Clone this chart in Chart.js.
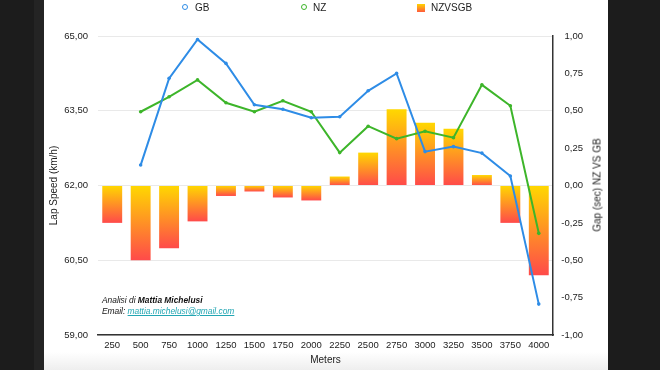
<!DOCTYPE html>
<html>
<head>
<meta charset="utf-8">
<script src="https://cdn.jsdelivr.net/npm/chart.js@4.4.1/dist/chart.umd.min.js"></script>
<style>
html,body{margin:0;padding:0;}
body{width:660px;height:370px;background:#1c1c1c;position:relative;overflow:hidden;font-family:"Liberation Sans",Arial,sans-serif;}
#strip{position:absolute;left:34px;top:0;width:10px;height:370px;background:#242424;}
#panel{position:absolute;left:44px;top:0;width:564px;height:370px;background:linear-gradient(to bottom,#fff 0,#fff 352px,#eeeeee 370px);}
#wrap{position:absolute;left:44px;top:0;width:564px;height:370px;}
.leg{position:absolute;top:2px;font-size:10px;color:#222;line-height:12px;}
.mk{position:absolute;top:4px;width:4px;height:4px;border-radius:50%;background:#fff;}
#note{position:absolute;left:102px;top:295px;font-size:8.4px;font-style:italic;color:#111;line-height:11px;}
#note a{color:#22a6b3;text-decoration:underline;}
#rtitle{position:absolute;left:597px;top:185px;transform:translate(-50%,-50%) rotate(-90deg);font-size:10px;color:#222;white-space:nowrap;}
</style>
</head>
<body>
<div id="strip"></div>
<div id="panel"></div>
<div id="wrap"><canvas id="c" width="564" height="370"></canvas></div>

<div class="mk" style="left:182px;border:1.5px solid #2e8ce6;"></div>
<div class="leg" style="left:195px;">GB</div>
<div class="mk" style="left:301px;border:1.5px solid #3db52a;"></div>
<div class="leg" style="left:313px;">NZ</div>
<div style="position:absolute;left:417px;top:4px;width:8px;height:8px;background:linear-gradient(#ffd400,#ff5a3c);"></div>
<div class="leg" style="left:431px;">NZVSGB</div>

<div id="note">Analisi di <b>Mattia Michelusi</b><br>Email: <a>mattia.michelusi@gmail.com</a></div>
<div id="rtitle">Gap (sec) NZ VS GB</div>

<script>
const meters=['250','500','750','1000','1250','1500','1750','2000','2250','2500','2750','3000','3250','3500','3750','4000'];
const gb=[null,62.41,64.15,64.93,64.45,63.62,63.53,63.36,63.38,63.90,64.25,62.68,62.78,62.65,62.19,59.62];
const nz=[null,63.48,63.78,64.12,63.66,63.48,63.70,63.48,62.66,63.19,62.94,63.09,62.96,64.02,63.60,61.04];
const gap=[-0.25,-0.50,-0.42,-0.24,-0.07,-0.04,-0.08,-0.10,0.06,0.22,0.51,0.42,0.38,0.07,-0.25,-0.60];
const speedTicks=[59,60.5,62,63.5,65];

const fmt=v=>Number(v).toFixed(2).replace('.',',');

function barFill(ctx){
const chart=ctx.chart;
if(ctx.type!=='data'||!chart.chartArea)return '#ff9a30';
const s=chart.scales.y2;
const a=s.getPixelForValue(0),b=s.getPixelForValue(ctx.raw);
const top=Math.min(a,b),bot=Math.max(a,b);
const g=chart.ctx.createLinearGradient(0,top,0,bot+0.01);
g.addColorStop(0,'#ffd800');
g.addColorStop(1,'#ff4a4a');
return g;
}

Chart.defaults.font.family='"Liberation Sans", Arial, sans-serif';
Chart.defaults.color='#222';

new Chart(document.getElementById('c'),{
data:{
labels:meters,
datasets:[
{type:'line',label:'GB',data:gb,yAxisID:'y',borderColor:'#2e8ce6',backgroundColor:'#2e8ce6',borderWidth:2,pointRadius:1.8,pointBorderWidth:0,tension:0,order:0},
{type:'line',label:'NZ',data:nz,yAxisID:'y',borderColor:'#3db52a',backgroundColor:'#3db52a',borderWidth:2,pointRadius:1.8,pointBorderWidth:0,tension:0,order:0},
{type:'bar',label:'NZVSGB',data:gap,yAxisID:'y2',backgroundColor:barFill,barPercentage:0.7,categoryPercentage:1,order:1}
]
},
options:{
responsive:false,
animation:false,
layout:{padding:{top:36,bottom:4,left:0,right:25}},
plugins:{legend:{display:false},tooltip:{enabled:false}},
scales:{
x:{
grid:{display:false,drawTicks:false},
border:{display:true,color:'#333',width:1.5},
ticks:{autoSkip:false,maxRotation:0,padding:5,font:{size:9.5},color:'#222'},
title:{display:true,text:'Meters',font:{size:10},padding:{top:0,bottom:0}},
afterFit:s=>{s.height=31;}
},
y:{
position:'left',min:59,max:65,
afterBuildTicks:s=>{s.ticks=speedTicks.map(v=>({value:v}));},
grid:{color:'#e9e9e9',drawTicks:false},
border:{display:false},
ticks:{padding:10,font:{size:9.5},color:'#222',callback:fmt},
title:{display:true,text:'Lap Speed (km/h)',font:{size:10},padding:{top:4,bottom:0}},
afterFit:s=>{s.width=54;}
},
y2:{
position:'right',min:-1,max:1,
ticks:{stepSize:0.25,padding:10,crossAlign:'far',font:{size:9.5},color:'#222',callback:fmt},
grid:{drawOnChartArea:false,drawTicks:false},
border:{display:true,color:'#333',width:1.5},
afterFit:s=>{s.width=30;}
}
}
}
});
</script>
</body>
</html>
